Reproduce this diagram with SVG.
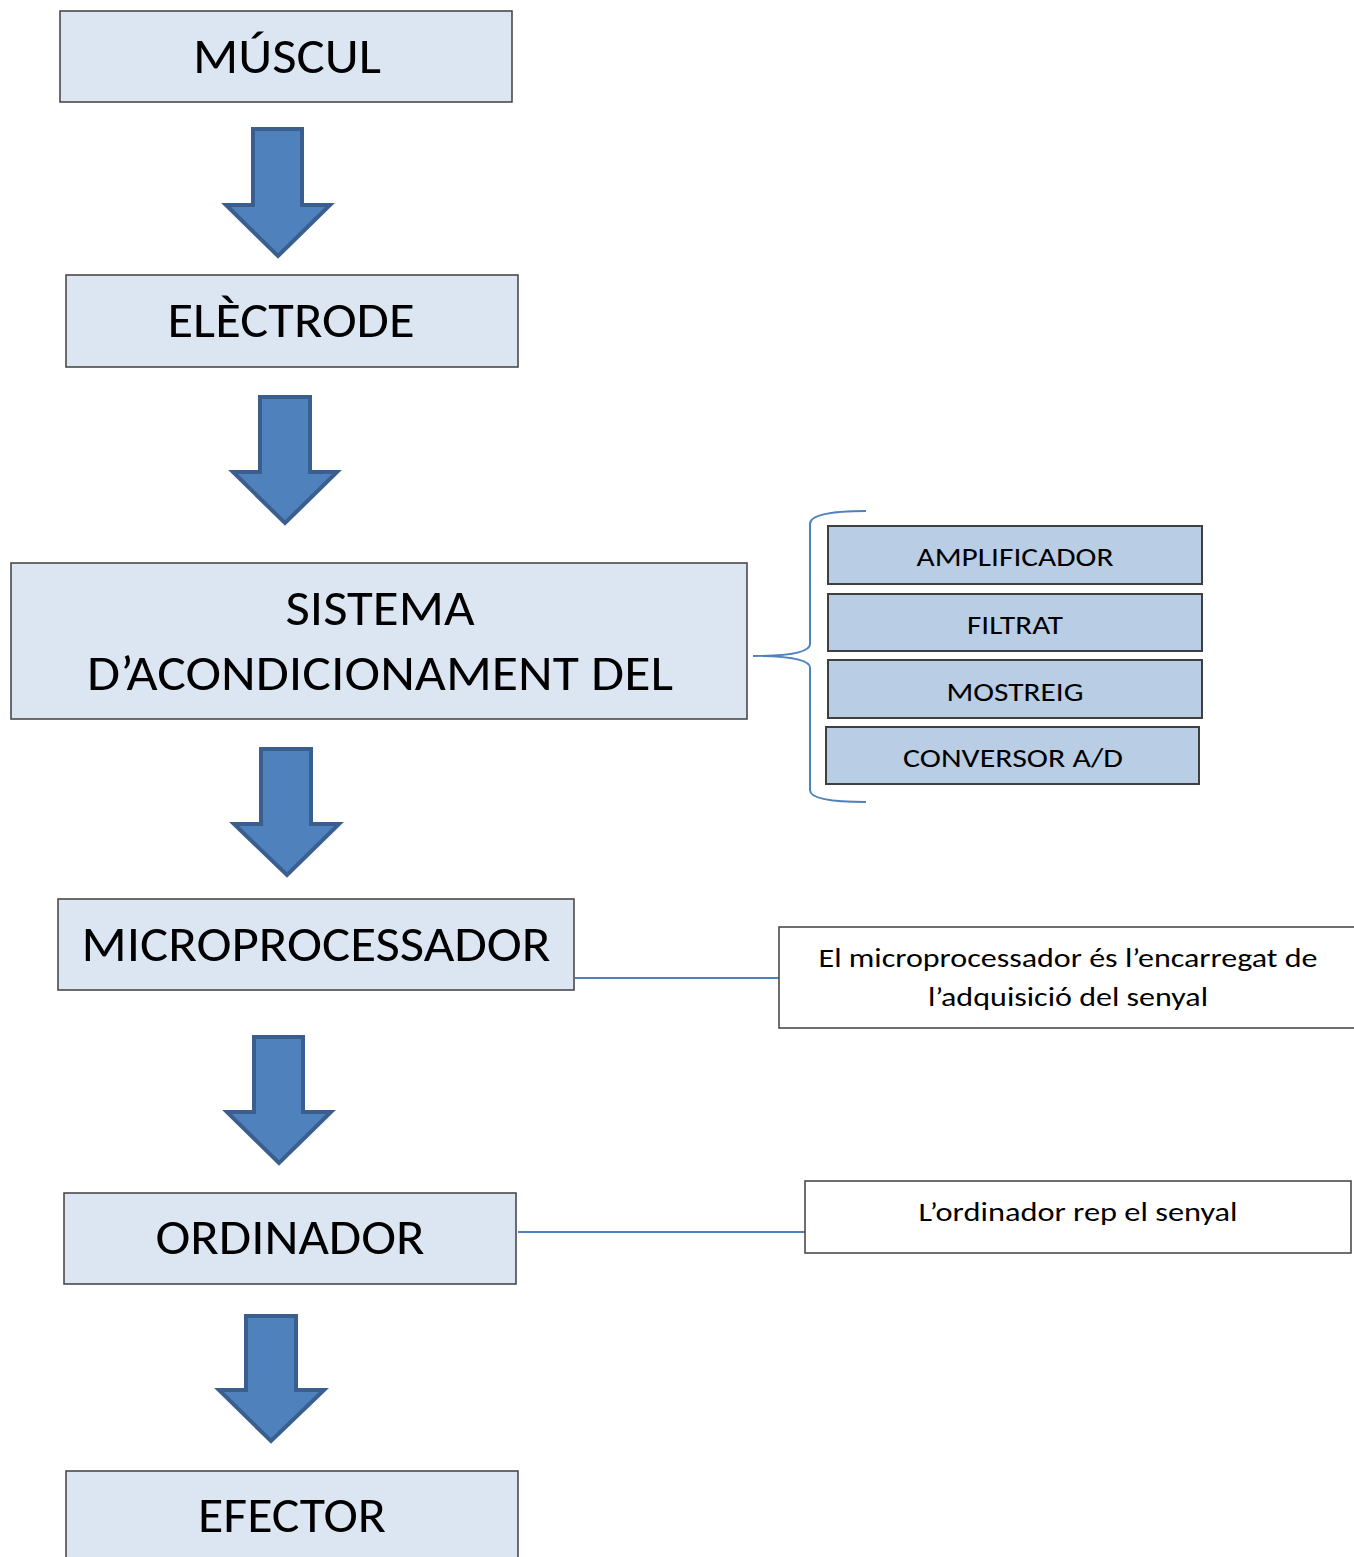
<svg xmlns="http://www.w3.org/2000/svg" width="1354" height="1557" viewBox="0 0 1354 1557">
<style>
.main{fill:#dce6f2;stroke:#3f3f3f;stroke-width:1.5}
.sub{fill:#b9cde5;stroke:#3f3f3f;stroke-width:2}
.note{fill:#ffffff;stroke:#3f3f3f;stroke-width:1.5}
.arrow{fill:#4f81bd;stroke:#3a5f8f;stroke-width:4;stroke-linejoin:miter}
.link{fill:none;stroke:#4f81bd;stroke-width:2}
text{font-family:Carlito,Lato,"Liberation Sans",sans-serif;fill:#000;text-anchor:middle}
.big{font-size:50px}
.small{font-size:27px}
</style>
<rect width="1354" height="1557" fill="#ffffff"/>
<g id="connectors">
<polygon class="arrow" points="253,129 302,129 302,205 330,205 278,256 226,205 253,205"/>
<polygon class="arrow" points="260,397 310,397 310,472 337,472 285,523 233,472 260,472"/>
<polygon class="arrow" points="261,749 311,749 311,824 339,824 287,875 234,824 261,824"/>
<polygon class="arrow" points="254,1037 303,1037 303,1112 331,1112 279,1163 227,1112 254,1112"/>
<polygon class="arrow" points="246,1316 296,1316 296,1390 324,1390 271,1441 219,1390 246,1390"/>
<path class="link" d="M866,511 Q810,511 810,524 L810,644 Q810,656 753,656 Q810,656 810,668 L810,790 Q810,802 866,802"/>
<line class="link" x1="575" y1="978" x2="779" y2="978"/>
<line class="link" x1="518" y1="1232" x2="805" y2="1232"/>
</g>
<g id="muscul">
<rect class="main" x="60" y="11" width="452" height="91"/>
<text class="big" x="287" y="73" textLength="188" lengthAdjust="spacingAndGlyphs">MÚSCUL</text>
</g>
<g id="electrode">
<rect class="main" x="66" y="275" width="452" height="92"/>
<text class="big" x="291" y="337" textLength="247" lengthAdjust="spacingAndGlyphs">ELÈCTRODE</text>
</g>
<g id="sistema">
<rect class="main" x="11" y="563" width="736" height="156"/>
<text class="big" x="380" y="625" textLength="189" lengthAdjust="spacingAndGlyphs">SISTEMA</text>
<text class="big" x="380" y="690" textLength="586" lengthAdjust="spacingAndGlyphs">D’ACONDICIONAMENT DEL</text>
</g>
<g id="amplificador">
<rect class="sub" x="828" y="526" width="374" height="58"/>
<text class="small" x="1015" y="566" textLength="197" lengthAdjust="spacingAndGlyphs">AMPLIFICADOR</text>
</g>
<g id="filtrat">
<rect class="sub" x="828" y="594" width="374" height="57"/>
<text class="small" x="1015" y="634" textLength="96" lengthAdjust="spacingAndGlyphs">FILTRAT</text>
</g>
<g id="mostreig">
<rect class="sub" x="828" y="660" width="374" height="58"/>
<text class="small" x="1015" y="701" textLength="137" lengthAdjust="spacingAndGlyphs">MOSTREIG</text>
</g>
<g id="conversor">
<rect class="sub" x="826" y="727" width="373" height="57"/>
<text class="small" x="1013" y="767" textLength="220" lengthAdjust="spacingAndGlyphs">CONVERSOR A/D</text>
</g>
<g id="microprocessador">
<rect class="main" x="58" y="899" width="516" height="91"/>
<text class="big" x="316" y="961" textLength="469" lengthAdjust="spacingAndGlyphs">MICROPROCESSADOR</text>
</g>
<g id="nota-micro">
<rect class="note" x="779" y="927" width="590" height="101"/>
<text class="small" x="1068" y="967" textLength="499" lengthAdjust="spacingAndGlyphs">El microprocessador és l’encarregat de</text>
<text class="small" x="1068" y="1006" textLength="280" lengthAdjust="spacingAndGlyphs">l’adquisició del senyal</text>
</g>
<g id="ordinador">
<rect class="main" x="64" y="1193" width="452" height="91"/>
<text class="big" x="290" y="1254" textLength="269" lengthAdjust="spacingAndGlyphs">ORDINADOR</text>
</g>
<g id="nota-ordinador">
<rect class="note" x="805" y="1181" width="546" height="72"/>
<text class="small" x="1078" y="1221" textLength="319" lengthAdjust="spacingAndGlyphs">L’ordinador rep el senyal</text>
</g>
<g id="efector">
<rect class="main" x="66" y="1471" width="452" height="100"/>
<text class="big" x="292" y="1532" textLength="188" lengthAdjust="spacingAndGlyphs">EFECTOR</text>
</g>
</svg>
